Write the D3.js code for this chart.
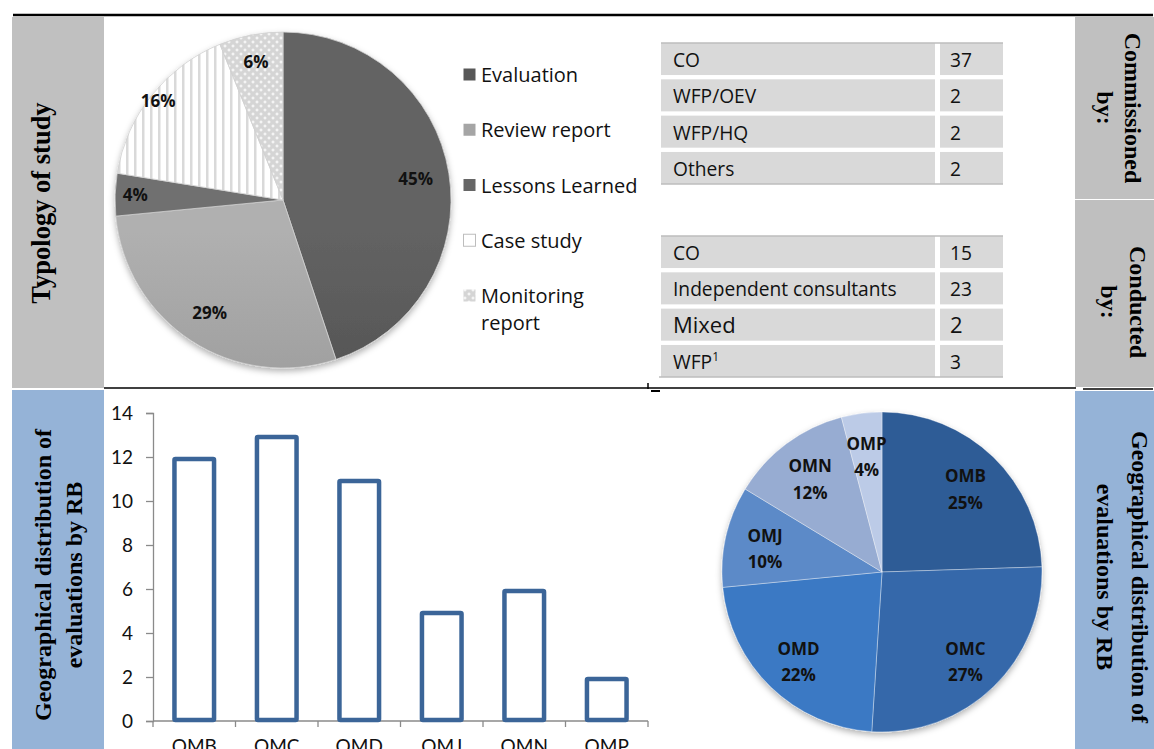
<!DOCTYPE html>
<html>
<head>
<meta charset="utf-8">
<script src="https://cdn.jsdelivr.net/npm/d3@7"></script>
<style>
  body { margin: 0; background: #fff; }
  svg { display: block; }
  .sans { font-family: 'Open Sans', Lato, sans-serif; }
  .lato { font-family: Lato, 'Open Sans', sans-serif; }
  .serif { font-family: 'Liberation Serif', 'DejaVu Serif', serif; font-weight: bold; }
</style>
</head>
<body>
<svg id="chart" width="1154" height="749"></svg>
<script>
// ---- data ----
const studyTypes = ['Evaluation', 'Review report', 'Lessons Learned', 'Case study', 'Monitoring report'];
const studyCounts = [22, 14, 2, 8, 3];
const studyPctLabels = ['45%', '29%', '4%', '16%', '6%'];

const commissionedBy = ['CO', 'WFP/OEV', 'WFP/HQ', 'Others'];
const commissionedCounts = [37, 2, 2, 2];

const conductedBy = ['CO', 'Independent consultants', 'Mixed', 'WFP'];
const conductedCounts = [15, 23, 2, 3];

const regions = ['OMB', 'OMC', 'OMD', 'OMJ', 'OMN', 'OMP'];
const regionCounts = [12, 13, 11, 5, 6, 2];
const regionPctLabels = ['25%', '27%', '22%', '10%', '12%', '4%'];
const yTicks = [0, 2, 4, 6, 8, 10, 12, 14];

const svg = d3.select('#chart');
const defs = svg.append('defs');

// ---- frame: panels and rules ----
const panels = [
  { x: 12, y: 17, w: 92, h: 371, fill: '#c0c0c0' },
  { x: 12, y: 390, w: 92, h: 359, fill: '#95b3d7' },
  { x: 1075, y: 17, w: 79, h: 182, fill: '#c0c0c0' },
  { x: 1075, y: 200, w: 79, h: 187, fill: '#bfbfbf' },
  { x: 1075, y: 391, w: 79, h: 358, fill: '#95b3d7' },
];
svg.selectAll('rect.panel')
  .data(panels)
  .enter().append('rect')
  .attr('class', 'panel')
  .attr('x', d => d.x).attr('y', d => d.y)
  .attr('width', d => d.w).attr('height', d => d.h)
  .attr('fill', d => d.fill);

svg.append('line').attr('x1', 13).attr('x2', 1153).attr('y1', 15).attr('y2', 15)
  .attr('stroke', '#000').attr('stroke-width', 2.5);
svg.append('line').attr('x1', 104).attr('x2', 1076).attr('y1', 388).attr('y2', 388)
  .attr('stroke', '#000').attr('stroke-width', 1.5);
svg.append('line').attr('x1', 1083).attr('x2', 1153).attr('y1', 389).attr('y2', 389)
  .attr('stroke', '#000').attr('stroke-width', 1.5);
// little cursor mark left in the source document
svg.append('line').attr('x1', 648).attr('x2', 648).attr('y1', 383).attr('y2', 389)
  .attr('stroke', '#000').attr('stroke-width', 1.5);
svg.append('line').attr('x1', 651).attr('x2', 660).attr('y1', 391).attr('y2', 391)
  .attr('stroke', '#000').attr('stroke-width', 2);

// rotated side headings
function sideLabel(cx, cy, angle, lines, size, gap) {
  const g = svg.append('g')
    .attr('transform', `translate(${cx},${cy}) rotate(${angle})`);
  g.selectAll('text')
    .data(lines)
    .enter().append('text')
    .attr('class', 'serif')
    .attr('text-anchor', 'middle')
    .attr('font-size', size)
    .attr('y', (d, i) => (i - (lines.length - 1) / 2) * gap)
    .text(d => d);
}
sideLabel(50, 203, -90, ['Typology of study'], 26.5, 0);
sideLabel(1111, 108, 90, ['Commissioned', 'by:'], 24, 28);
sideLabel(1115, 302, 90, ['Conducted', 'by:'], 24, 29);
sideLabel(66, 575, -90, ['Geographical distribution of', 'evaluations by RB'], 24, 31);
sideLabel(1114, 577, 90, ['Geographical distribution of', 'evaluations by RB'], 24, 35);

// soft shadow under the pies
const shadow = defs.append('filter').attr('id', 'shadow')
  .attr('x', '-10%').attr('y', '-10%').attr('width', '120%').attr('height', '125%');
shadow.append('feDropShadow').attr('dx', 0).attr('dy', 3).attr('stdDeviation', 3)
  .attr('flood-color', '#000').attr('flood-opacity', 0.3);

// ---- top pie: typology of study ----
const topPie = { cx: 283, cy: 200, r: 168 };

// patterns for the two light slices
const stripes = defs.append('pattern').attr('id', 'stripes')
  .attr('patternUnits', 'userSpaceOnUse').attr('width', 8).attr('height', 8);
stripes.append('rect').attr('width', 8).attr('height', 8).attr('fill', '#fff');
stripes.append('rect').attr('x', 3).attr('width', 2.5).attr('height', 8).attr('fill', '#d9d9d9');

const dots = defs.append('pattern').attr('id', 'dots')
  .attr('patternUnits', 'userSpaceOnUse').attr('width', 8).attr('height', 8);
dots.append('rect').attr('width', 8).attr('height', 8).attr('fill', '#d5d5d5');
[[2, 2], [6, 6]].forEach(([px, py]) => {
  dots.append('rect').attr('x', px - 1.5).attr('y', py - 0.5).attr('width', 3).attr('height', 1).attr('fill', '#fff');
  dots.append('rect').attr('x', px - 0.5).attr('y', py - 1.5).attr('width', 1).attr('height', 3).attr('fill', '#fff');
});

const grayTones = [['#636363', '#434343'], ['#b0b0b0', '#8a8a8a'], ['#707070', '#575757']];
grayTones.forEach((c, i) => {
  const lg = defs.append('linearGradient').attr('id', `gray${i}`)
    .attr('gradientUnits', 'userSpaceOnUse')
    .attr('x1', 0).attr('x2', 0)
    .attr('y1', topPie.cy - topPie.r).attr('y2', topPie.cy + topPie.r);
  lg.append('stop').attr('offset', 0).attr('stop-color', c[0]);
  lg.append('stop').attr('offset', 1).attr('stop-color', c[1]);
});
const studyFills = ['url(#gray0)', 'url(#gray1)', 'url(#gray2)', 'url(#stripes)', 'url(#dots)'];
const legendFills = ['#585858', '#a5a5a5', '#666666', '#fff', 'url(#dots)'];

const pie = d3.pie().sort(null).value(d => d);
const topArc = d3.arc().innerRadius(0).outerRadius(topPie.r);

const topG = svg.append('g').attr('transform', `translate(${topPie.cx},${topPie.cy})`);
topG.append('g').attr('filter', 'url(#shadow)')
  .selectAll('path')
  .data(pie(studyCounts))
  .enter().append('path')
  .attr('d', topArc)
  .attr('fill', (d, i) => studyFills[i])
  .attr('stroke', '#d0d0d0')
  .attr('stroke-width', 0.8);

const topLabelR = [0.8, 0.8, 0.88, 0.95, 0.84];
topG.selectAll('text.pct')
  .data(pie(studyCounts))
  .enter().append('text')
  .attr('class', 'pct sans')
  .attr('transform', (d, i) => {
    const a = (d.startAngle + d.endAngle) / 2;
    const rr = topPie.r * topLabelR[i];
    return `translate(${Math.sin(a) * rr},${-Math.cos(a) * rr})`;
  })
  .attr('text-anchor', 'middle')
  .attr('dy', '0.36em')
  .attr('font-size', 17)
  .attr('font-weight', 'bold')
  .attr('fill', '#111')
  .text((d, i) => studyPctLabels[i]);

// legend
const legendY = d3.scalePoint().domain(studyTypes).range([75, 296]);
const legend = svg.append('g').attr('class', 'sans');
const legendItem = legend.selectAll('g')
  .data(studyTypes)
  .enter().append('g')
  .attr('transform', d => `translate(463,${legendY(d)})`);
legendItem.append('rect')
  .attr('x', 0.5).attr('y', -6.5)
  .attr('width', 12).attr('height', 12)
  .attr('fill', (d, i) => legendFills[i])
  .attr('stroke', (d, i) => (i === 3 ? '#bdbdbd' : 'none'));
legendItem.append('text')
  .attr('font-size', 20)
  .attr('fill', '#111')
  .each(function (d) {
    const words = d === 'Monitoring report' ? ['Monitoring', 'report'] : [d];
    d3.select(this).selectAll('tspan')
      .data(words)
      .enter().append('tspan')
      .attr('x', 18)
      .attr('y', (w, i) => 7 + i * 27)
      .text(w => w);
  });

// ---- tables ----
function drawTable(names, counts, top, bottom) {
  const rowY = d3.scaleBand().domain(names).range([top, bottom]).paddingInner(0.118);
  const g = svg.append('g').attr('class', 'sans');
  const row = g.selectAll('g')
    .data(names)
    .enter().append('g')
    .attr('transform', d => `translate(0,${rowY(d)})`);
  row.append('rect').attr('x', 661).attr('width', 274).attr('height', rowY.bandwidth()).attr('fill', '#d9d9d9');
  row.append('rect').attr('x', 940).attr('width', 63).attr('height', rowY.bandwidth()).attr('fill', '#d9d9d9');
  const big = d => d === 'Mixed';
  row.append('text')
    .attr('x', 673).attr('y', 24)
    .attr('font-size', d => (big(d) ? 22 : 19.2))
    .attr('fill', '#111')
    .each(function (d) {
      const t = d3.select(this);
      t.append('tspan').text(d);
      if (d === 'WFP') {
        t.append('tspan').attr('dy', -8).attr('font-size', 12).text('1');
      }
    });
  row.append('text')
    .attr('x', 950).attr('y', 24)
    .attr('font-size', d => (big(d) ? 22 : 19.2))
    .attr('fill', '#111')
    .text((d, i) => counts[i]);
  g.append('line').attr('x1', 661).attr('x2', 1003).attr('y1', top).attr('y2', top)
    .attr('stroke', '#bcbcbc').attr('stroke-width', 1.5);
  g.append('line').attr('x1', top > 200 ? 659 : 661).attr('x2', 1003).attr('y1', bottom).attr('y2', bottom)
    .attr('stroke', '#bcbcbc').attr('stroke-width', 1.5);
}
drawTable(commissionedBy, commissionedCounts, 43, 184);
drawTable(conductedBy, conductedCounts, 236, 377);

// ---- bar chart ----
const x = d3.scaleBand().domain(regions).range([153, 648]).paddingInner(0.52).paddingOuter(0.26);
const y = d3.scaleLinear().domain([0, 14]).range([721, 413]);
const barG = svg.append('g');

const yAxis = barG.append('g')
  .attr('transform', 'translate(153,0)')
  .call(d3.axisLeft(y).tickValues(yTicks).tickSize(7).tickPadding(13).tickSizeOuter(7));
yAxis.select('.domain').attr('stroke', '#8a8a8a').attr('stroke-width', 1.3);
yAxis.selectAll('.tick line').attr('stroke', '#8a8a8a').attr('stroke-width', 1.3);
yAxis.selectAll('.tick text').attr('font-size', 19).attr('fill', '#111').attr('font-family', 'Lato, sans-serif');

barG.append('line')
  .attr('x1', x.range()[0]).attr('x2', x.range()[1])
  .attr('y1', y(0)).attr('y2', y(0))
  .attr('stroke', '#8a8a8a').attr('stroke-width', 1.3);
barG.selectAll('line.xtick')
  .data(d3.range(regions.length + 1))
  .enter().append('line')
  .attr('class', 'xtick')
  .attr('x1', i => x.range()[0] + i * x.step())
  .attr('x2', i => x.range()[0] + i * x.step())
  .attr('y1', y(0)).attr('y2', y(0) + 6)
  .attr('stroke', '#8a8a8a').attr('stroke-width', 1.3);

barG.selectAll('rect.bar')
  .data(regionCounts)
  .enter().append('rect')
  .attr('class', 'bar')
  .attr('x', (d, i) => x(regions[i]))
  .attr('y', d => y(d) + 2)
  .attr('width', x.bandwidth())
  .attr('height', d => y(0) - y(d) - 3)
  .attr('rx', 1)
  .attr('fill', '#fff')
  .attr('stroke', '#3b6598')
  .attr('stroke-width', 4.5)
  .attr('stroke-linejoin', 'round');

// category labels sit at the bottom edge, cropped as in the source
barG.selectAll('text.cat')
  .data(regions)
  .enter().append('text')
  .attr('class', 'cat lato')
  .attr('x', d => x(d) + x.bandwidth() / 2)
  .attr('y', 753)
  .attr('text-anchor', 'middle')
  .attr('font-size', 19)
  .attr('fill', '#111')
  .text(d => d);

// ---- bottom pie: regional shares ----
const botPie = { cx: 882, cy: 572, r: 160 };
const blueTones = [
  ['#2e5b96', '#1f416f'],
  ['#3468aa', '#274e84'],
  ['#3b79c4', '#2d5d99'],
  ['#5c8ac8', '#486b9f'],
  ['#97acd2', '#7a8fb2'],
  ['#bccbe7', '#a6b6d3'],
];
blueTones.forEach((c, i) => {
  const lg = defs.append('linearGradient').attr('id', `blue${i}`)
    .attr('gradientUnits', 'userSpaceOnUse')
    .attr('x1', 0).attr('x2', 0)
    .attr('y1', botPie.cy - botPie.r).attr('y2', botPie.cy + botPie.r);
  lg.append('stop').attr('offset', 0).attr('stop-color', c[0]);
  lg.append('stop').attr('offset', 1).attr('stop-color', c[1]);
});
const botArc = d3.arc().innerRadius(0).outerRadius(botPie.r);
const botG = svg.append('g').attr('transform', `translate(${botPie.cx},${botPie.cy})`);
botG.append('g').attr('filter', 'url(#shadow)')
  .selectAll('path')
  .data(pie(regionCounts))
  .enter().append('path')
  .attr('d', botArc)
  .attr('fill', (d, i) => `url(#blue${i})`)
  .attr('stroke', 'rgba(255,255,255,0.45)')
  .attr('stroke-width', 0.8);

const botLabel = botG.selectAll('text.pct')
  .data(pie(regionCounts))
  .enter().append('text')
  .attr('class', 'pct sans')
  .attr('transform', d => {
    const a = (d.startAngle + d.endAngle) / 2;
    const rr = botPie.r * 0.75;
    return `translate(${Math.sin(a) * rr},${-Math.cos(a) * rr})`;
  })
  .attr('text-anchor', 'middle')
  .attr('font-size', 17)
  .attr('font-weight', 'bold')
  .attr('fill', '#111');
botLabel.append('tspan').attr('x', 0).attr('dy', '-0.2em').text((d, i) => regions[i]);
botLabel.append('tspan').attr('x', 0).attr('dy', '1.55em').text((d, i) => regionPctLabels[i]);
</script>
</body>
</html>
